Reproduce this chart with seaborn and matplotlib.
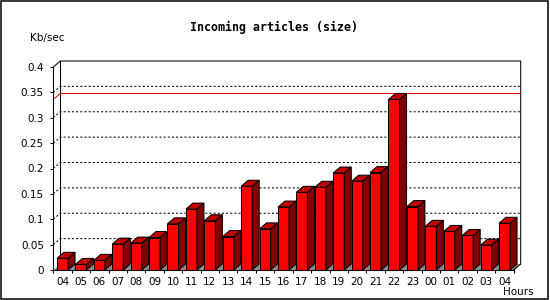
import numpy as np
import pandas as pd
import matplotlib
matplotlib.use("Agg")
import matplotlib.pyplot as plt
import seaborn as sns
from matplotlib.patches import Polygon, Rectangle

# ---- data ----
hours = ["04", "05", "06", "07", "08", "09", "10", "11", "12", "13", "14", "15",
         "16", "17", "18", "19", "20", "21", "22", "23", "00", "01", "02", "03", "04"]
values = [0.023, 0.011, 0.019, 0.051, 0.053, 0.064, 0.091, 0.120, 0.097, 0.066,
          0.165, 0.081, 0.124, 0.153, 0.163, 0.191, 0.175, 0.192, 0.336, 0.125,
          0.086, 0.076, 0.068, 0.049, 0.092]
y_ticks = [0, 0.05, 0.1, 0.15, 0.2, 0.25, 0.3, 0.35, 0.4]
y_tick_labels = ["0", "0.05", "0.1", "0.15", "0.2", "0.25", "0.3", "0.35", "0.4"]
title = "Incoming articles (size)"
y_title = "Kb/sec"
x_title = "Hours"

sns.set_style("white")
plt.rcParams["font.family"] = ["DejaVu Sans"]
plt.rcParams["text.color"] = "black"

W, H = 550, 300
fig = plt.figure(figsize=(W / 100, H / 100), dpi=100)
fig.patch.set_facecolor("white")

X0, YB, AW, AH = 53.3, 270.0, 460.4, 203.0
ax = fig.add_axes([X0 / W, (H - YB) / H, AW / W, AH / H])
ax.set_facecolor("none")

df = pd.DataFrame({"slot": list(range(len(values))), "value": values})
sns.barplot(data=df, x="slot", y="value", ax=ax, color="#ff0000", saturation=1,
            width=0.6, edgecolor="black", linewidth=0.75, errorbar=None)
bars = list(ax.patches)
for p in bars:
    p.set_zorder(6)
    p.set_facecolor("#ff0000")

n = len(values)
xl, xr = -0.5, n - 0.5
ax.set_xlim(xl, xr)
ax.set_ylim(0, 0.4)

DX = 7 * (xr - xl) / AW
DY = 6 * 0.4 / AH
LW = 0.75

# back wall frame
ax.plot([xl + DX, xl + DX], [DY, 0.4 + DY], color="black", lw=LW, clip_on=False, zorder=2)
ax.plot([xl, xl + DX, xr + DX, xr + DX], [0.4, 0.4 + DY, 0.4 + DY, DY],
        color="black", lw=LW, clip_on=False, zorder=2)
ax.plot([xr, xr + DX], [0, DY], color="black", lw=LW, clip_on=False, zorder=7)

# dotted grid on back wall
for v in y_ticks[1:-1]:
    ax.plot([xl, xl + DX, xr + DX], [v, v + DY, v + DY], color="black", lw=LW,
            ls=(0, (2, 2)), clip_on=False, zorder=2)

# max line
m = max(values)
ax.plot([xl, xl + DX, xr + DX], [m, m + DY, m + DY], color="#ff0000", lw=LW,
        clip_on=False, zorder=3)

# floor
ax.add_patch(Polygon([(xl, 0), (xr, 0), (xr + DX, DY), (xl + DX, DY)], closed=True,
                     facecolor="#8c8c8c", edgecolor="none", clip_on=False, zorder=4))

# 3D faces
for p in bars:
    l = p.get_x()
    r = l + p.get_width()
    t = p.get_height()
    ax.add_patch(Polygon([(r, 0), (r + DX, DY), (r + DX, t + DY), (r, t)], closed=True,
                         facecolor="#800000", edgecolor="black", lw=LW, clip_on=False, zorder=6))
    ax.add_patch(Polygon([(l, t), (l + DX, t + DY), (r + DX, t + DY), (r, t)], closed=True,
                         facecolor="#c00000", edgecolor="black", lw=LW, clip_on=False, zorder=6))

# spines
for s in ["top", "right"]:
    ax.spines[s].set_visible(False)
for s in ["left", "bottom"]:
    ax.spines[s].set_visible(True)
    ax.spines[s].set_color("black")
    ax.spines[s].set_linewidth(LW)
    ax.spines[s].set_zorder(8)

ax.set_yticks(y_ticks)
ax.set_yticklabels(y_tick_labels)
ax.set_xticks(list(range(n)))
ax.set_xticklabels(hours)
ax.set_xticks(np.arange(xl, xr + 0.01, 1.0), minor=True)
ax.tick_params(axis="x", which="major", length=0, pad=5, labelsize=7.5, colors="black")
ax.tick_params(axis="x", which="minor", length=2.2, width=LW, direction="out", bottom=True, color="black")
ax.tick_params(axis="y", which="major", length=2.2, width=LW, direction="out", left=True,
               pad=4.5, labelsize=7.5, colors="black")
ax.set_xlabel("")
ax.set_ylabel("")

fig.text(274 / W, 1 - 27 / H, title, ha="center", va="center", fontsize=8.4,
         fontweight="bold", family="DejaVu Sans Mono", color="black")
fig.text(30 / W, 1 - 37.5 / H, y_title, ha="left", va="center", fontsize=7.5, color="black")
fig.text(534 / W, 1 - 292 / H, x_title, ha="right", va="center", fontsize=7.5, color="black")

fig.patches.append(Rectangle((0.7 / W, 1.2 / H), 547.5 / W, 298.1 / H, transform=fig.transFigure,
                             fill=False, edgecolor="black", lw=1.1, figure=fig))

fig.savefig("out.png", dpi=100, facecolor="white")
